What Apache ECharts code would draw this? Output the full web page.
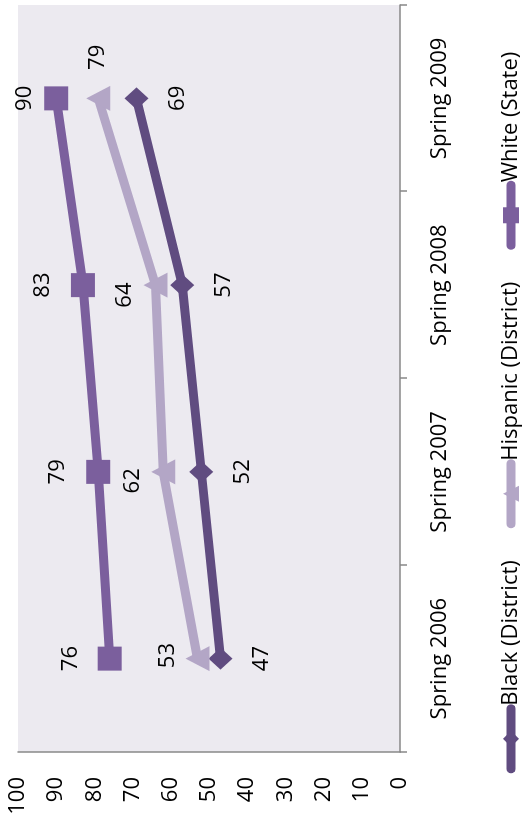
<!DOCTYPE html>
<html>
<head>
<meta charset="utf-8">
<script src="https://cdn.jsdelivr.net/npm/echarts@6/dist/echarts.min.js"></script>
<style>
  html, body { margin: 0; padding: 0; background: #ffffff; overflow: hidden; width: 523px; height: 825px; }
  #chart {
    position: absolute; left: 0; top: 0;
    width: 825px; height: 523px;
    transform-origin: 0 0;
    transform: translateY(825px) rotate(-90deg);
  }
</style>
</head>
<body>
<div id="chart"></div>
<script>
const categories = ['Spring 2006', 'Spring 2007', 'Spring 2008', 'Spring 2009'];
const blackDistrict = [47, 52, 57, 69];
const hispanicDistrict = [53, 62, 64, 79];
const whiteState = [76, 79, 83, 90];
const seriesNames = ['Black (District)', 'Hispanic (District)', 'White (State)'];
const valueTicks = { min: 0, max: 100, interval: 10 };

const FONT = '"Open Sans"';
const FS = 22;
const colors = ['#604C80', '#B3A6C6', '#7B5F9D'];

function withLabels(values, offsets) {
  return values.map((v, i) => ({
    value: v,
    label: { offset: offsets[i] }
  }));
}

const chart = echarts.init(document.getElementById('chart'), null, { renderer: 'canvas' });

const labelBase = {
  show: true,
  position: 'inside',
  color: '#000',
  fontFamily: FONT,
  fontSize: FS
};

function lineSeries(name, values, color, symbol, size, offsets) {
  return {
    name: name,
    type: 'line',
    data: withLabels(values, offsets),
    symbol: symbol,
    symbolSize: size,
    showAllSymbol: true,
    lineStyle: { color: color, width: 9, cap: 'round', join: 'round' },
    itemStyle: { color: color },
    label: labelBase,
    emphasis: { disabled: true },
    animation: false
  };
}

chart.setOption({
  animation: false,
  color: colors,
  grid: {
    left: 73, right: 5, top: 18, bottom: 123,
    show: true, backgroundColor: '#ECEAF0', borderWidth: 0
  },
  legend: {
    data: seriesNames,
    left: 'center',
    top: 500,
    padding: 0,
    itemGap: 32,
    itemWidth: 60,
    itemHeight: 20,
    textStyle: { fontFamily: FONT, fontSize: FS, color: '#000', padding: [0, 0, 0, -2] },
    lineStyle: { width: 9, cap: 'round' }
  },
  xAxis: {
    type: 'category',
    data: categories,
    boundaryGap: true,
    axisLine: { show: true, lineStyle: { color: '#888888', width: 1.5 } },
    axisTick: { show: true, length: 7, lineStyle: { color: '#888888', width: 1.5 } },
    axisLabel: { fontFamily: FONT, fontSize: FS, color: '#000', margin: 29 },
    splitLine: { show: false }
  },
  yAxis: {
    type: 'value',
    min: valueTicks.min,
    max: valueTicks.max,
    interval: valueTicks.interval,
    axisLine: { show: true, lineStyle: { color: '#888888', width: 1.5 } },
    axisTick: { show: false },
    axisLabel: { fontFamily: FONT, fontSize: FS, color: '#000', margin: 25 },
    splitLine: { show: false }
  },
  series: [
    lineSeries(seriesNames[0], blackDistrict, colors[0], 'diamond', [22, 24],
      [[0, 41], [0, 41], [0, 41], [0, 41]]),
    lineSeries(seriesNames[1], hispanicDistrict, colors[1], 'triangle', [25, 24],
      [[3, -30], [-9, -30], [-10, -31], [41, 0]]),
    lineSeries(seriesNames[2], whiteState, colors[2], 'rect', 24,
      [[0, -39], [0, -40], [0, -40], [0, -31]])
  ]
});
</script>
</body>
</html>
